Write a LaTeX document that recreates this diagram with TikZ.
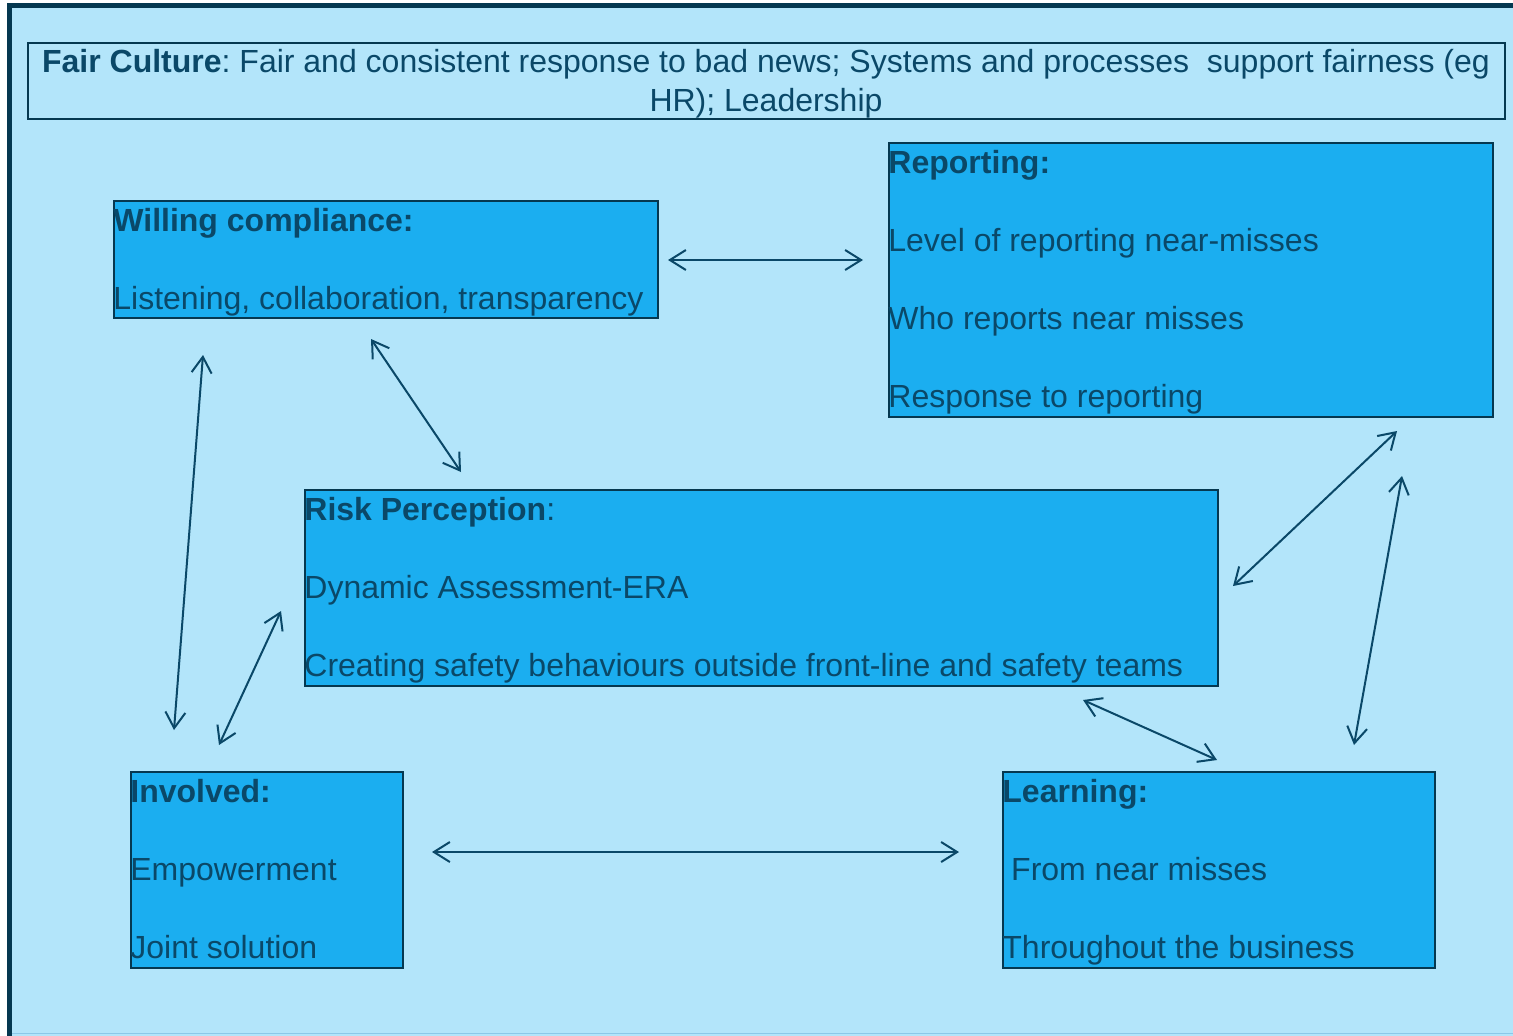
\documentclass[tikz,border=0pt]{standalone}
\usepackage{fontspec}
\setmainfont{Liberation Sans}
\usetikzlibrary{arrows.meta}
\definecolor{bg}{RGB}{179,229,250}
\definecolor{boxfill}{RGB}{27,174,240}
\definecolor{ink}{RGB}{10,72,104}
\definecolor{frame}{RGB}{5,56,80}
\definecolor{bgline}{RGB}{140,200,232}
\begin{document}
\begin{tikzpicture}[x=0.5pt,y=-0.5pt,
  box/.style={draw=frame, line width=0.9pt, fill=boxfill, inner sep=0pt, anchor=north west},
  titlebox/.style={draw=frame, line width=0.9pt, inner sep=0pt, anchor=north west},
  txt/.style={text=ink, inner sep=0pt, align=left, font=\fontsize{16}{19.5}\selectfont},
  conn/.style={draw=ink, line width=1pt, >={Straight Barb[length=8pt,width=10pt]}, <->}]
\useasboundingbox (0,0) rectangle (1513,1035);
\clip (0,0) rectangle (1513,1035);
\fill[white] (0,0) rectangle (1513,1035);
\draw[frame, line width=2.5pt, fill=bg] (9.5,5.5) rectangle (1560,1080);
\draw[bgline, line width=0.6pt] (12,1033.5) -- (1513,1033.5);

% boxes
\node[titlebox, minimum width=738.5pt, minimum height=38pt] (fair) at (27,42) {};
\node[box, minimum width=272pt, minimum height=58.5pt] (wc) at (113,200) {};
\node[box, minimum width=302pt, minimum height=137pt] (rep) at (888,142) {};
\node[box, minimum width=456.5pt, minimum height=98pt] (risk) at (304,489) {};
\node[box, minimum width=136pt, minimum height=98pt] (inv) at (130,771) {};
\node[box, minimum width=216pt, minimum height=98pt] (learn) at (1002,771) {};

% texts (base anchor = baseline of the last line)
\node[txt, align=center, anchor=base] (fairt) at (766,111)
  {\textbf{Fair Culture}:~Fair and consistent response to bad news; Systems and processes \ support fairness (eg\\HR); Leadership};
\node[txt, anchor=base west] (wct) at (113,309)
  {\textbf{Willing compliance:}\\[19.5pt]Listening, collaboration, transparency};
\node[txt, anchor=base west] (rept) at (888,407)
  {\textbf{Reporting:}\\[19.5pt]Level of reporting near-misses\\[19.5pt]Who reports near misses\\[19.5pt]Response to reporting};
\node[txt, anchor=base west] (riskt) at (304,676)
  {\textbf{Risk Perception}:\\[19.5pt]Dynamic Assessment-ERA\\[19.5pt]Creating safety behaviours outside front-line and safety teams};
\node[txt, anchor=base west] (invt) at (130,958)
  {\textbf{Involved:}\\[19.5pt]Empowerment\\[19.5pt]Joint solution};
\node[txt, anchor=base west] (learnt) at (1002,958)
  {\textbf{Learning:}\\[19.5pt]\hspace*{4.4pt}From near misses\\[19.5pt]Throughout the business};

% connector end points
\coordinate (a1) at (668,260);  \coordinate (b1) at (863,260);
\coordinate (a2) at (203,355);  \coordinate (b2) at (174,730);
\coordinate (a3) at (371,339);  \coordinate (b3) at (461,472);
\coordinate (a4) at (281,611);  \coordinate (b4) at (219,745);
\coordinate (a5) at (1397,431); \coordinate (b5) at (1233,586);
\coordinate (a6) at (1402,476); \coordinate (b6) at (1354,745);
\coordinate (a7) at (1083,700); \coordinate (b7) at (1217,760);
\coordinate (a8) at (432,852);  \coordinate (b8) at (959,852);

\foreach \i in {1,...,8} \draw[conn] (a\i) -- (b\i);
\end{tikzpicture}
\end{document}
